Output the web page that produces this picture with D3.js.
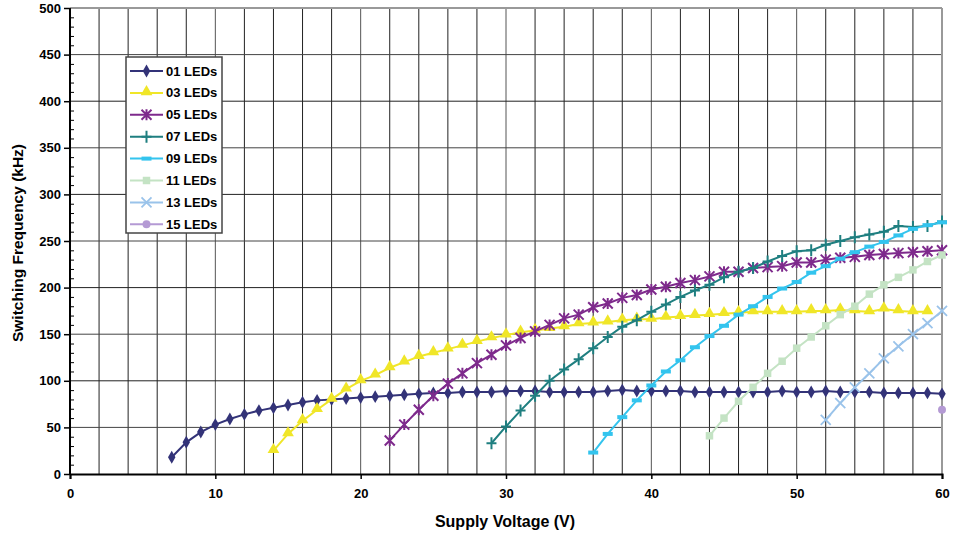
<!DOCTYPE html>
<html><head><meta charset="utf-8">
<script src="https://cdn.jsdelivr.net/npm/d3@7"></script>
<style>body{margin:0;background:#fff;} svg{display:block;font-family:"Liberation Sans",Arial,sans-serif;}</style>
</head><body>
<svg id="c" width="953" height="535"></svg>
<script>
const seriesNames = ["01 LEDs","03 LEDs","05 LEDs","07 LEDs","09 LEDs","11 LEDs","13 LEDs","15 LEDs"];
const startVoltages = [7,14,22,29,36,44,52,60];
const led01 = [18,34,45,53,59,64,68,71,74,77,79,80,81,82,83,84,85,86,87,87,88,88,88,89,89,89,88,88,88,88,89,90,89,89,89,89,88,88,88,88,88,88,89,88,88,89,88,88,88,87,87,87,87,86];
const led03 = [25,43,57,69,80,91,100,106,114,120,126,130,134,138,142,146,149,152,154,156,158,161,162,163,165,166,166,168,169,170,171,172,173,174,174,174,174,175,175,176,175,174,177,175,174,174];
const led05 = [36,53,69,84,97,108,119,128,138,146,153,160,167,171,179,183,189,192,198,201,205,208,212,217,217,221,222,223,227,227,230,232,233,235,236,237,238,239,240];
const led07 = [33,51,68,84,100,112,123,135,147,158,165,174,182,190,197,203,211,217,221,228,234,239,240,246,250,254,257,260,266,265,266,271];
const led09 = [23,43,61,79,95,110,122,136,148,159,171,180,190,199,206,216,223,231,238,244,249,256,263,267,270];
const led11 = [41,60,78,93,108,121,135,147,159,171,180,193,203,211,219,228,235];
const led13 = [58,76,93,108,124,137,150,162,175];
const led15 = [69];
const seriesValues = [led01,led03,led05,led07,led09,led11,led13,led15];
const colors = ["#333378","#f0e628","#7e2a8c","#1f7f80","#33c4ee","#c4e3c4","#9ac3ea","#b49ad4"];
const markers = ["diamond","triangle","asterisk","plus","dash","square","cross","circle"];
const xTicks = [0,10,20,30,40,50,60];
const yTicks = [0,50,100,150,200,250,300,350,400,450,500];

const svg = d3.select("#c");
const M = {l:70, r:11, t:8, b:61};
const W = 953, H = 535;
const x = d3.scaleLinear().domain([0,60]).range([M.l, W-M.r]);
const y = d3.scaleLinear().domain([0,500]).range([H-M.b, M.t]);

// gridlines
const g = svg.append("g");
g.selectAll(".vg").data(d3.range(2,60,2)).enter().append("line")
  .attr("x1",d=>x(d)).attr("x2",d=>x(d)).attr("y1",y(0)).attr("y2",y(500))
  .attr("stroke",d=>d%10===0?"#555":"#222").attr("stroke-width",1);
g.selectAll(".hg").data(d3.range(50,500,50)).enter().append("line")
  .attr("x1",x(0)).attr("x2",x(60)).attr("y1",d=>y(d)).attr("y2",d=>y(d))
  .attr("stroke",d=>d%100===0?"#222":"#444").attr("stroke-width",1);
// frame top/right
g.append("line").attr("x1",x(0)).attr("x2",x(60)).attr("y1",y(500)).attr("y2",y(500)).attr("stroke","#999").attr("stroke-width",2);
g.append("line").attr("x1",x(60)).attr("x2",x(60)).attr("y1",y(0)).attr("y2",y(500)).attr("stroke","#999").attr("stroke-width",2);

// axes
const yAxis = d3.axisLeft(y).tickValues(yTicks).tickSize(6).tickPadding(3);
const ya = svg.append("g").attr("transform",`translate(${x(0)},0)`).call(yAxis);
const yMinor = svg.append("g").attr("transform",`translate(${x(0)},0)`)
  .call(d3.axisRight(y).tickValues(d3.range(0,501,10).filter(v=>v%50!==0)).tickSize(4).tickFormat(""));
yMinor.select(".domain").remove();
const xAxis = d3.axisBottom(x).tickValues(xTicks).tickSize(5).tickPadding(10);
const xa = svg.append("g").attr("transform",`translate(0,${y(0)})`).call(xAxis);
[ya,xa].forEach(a=>{
  a.select(".domain").attr("stroke","#000").attr("stroke-width",2);
  a.selectAll(".tick line").attr("stroke","#000").attr("stroke-width",1.5);
  a.selectAll("text").attr("font-size",13).attr("font-weight","bold").attr("fill","#000")
   .attr("font-family","'Liberation Sans',Arial,sans-serif");
});
yMinor.selectAll(".tick line").attr("stroke","#000");
ya.selectAll(".domain").attr("d",`M0,${y(0)}V${y(500)}`);

// axis titles
svg.append("text").attr("x",(x(0)+x(60))/2 - 1).attr("y",527).attr("text-anchor","middle")
  .attr("font-size",16).attr("font-weight","bold").text("Supply Voltage (V)");
svg.append("text").attr("transform",`translate(23,${(y(0)+y(500))/2 + 2}) rotate(-90)`).attr("text-anchor","middle")
  .attr("font-size",15.5).attr("font-weight","bold").text("Switching Frequency (kHz)");

// marker drawing
function drawMarker(sel, type, color){
  if(type==="diamond") sel.append("path").attr("d",d3.symbol(d3.symbolDiamond,48)()).attr("fill",color);
  else if(type==="triangle") sel.append("path").attr("d",d3.symbol(d3.symbolTriangle,60)()).attr("fill",color).attr("transform","translate(0,-1)");
  else if(type==="square") sel.append("path").attr("d",d3.symbol(d3.symbolSquare,56)()).attr("fill",color);
  else if(type==="circle") sel.append("path").attr("d",d3.symbol(d3.symbolCircle,50)()).attr("fill",color);
  else if(type==="asterisk") sel.append("path").attr("d","M-5,-5L5,5M-5,5L5,-5M0,-5.5V5.5").attr("stroke",color).attr("stroke-width",2).attr("fill","none");
  else if(type==="plus") sel.append("path").attr("d","M-5,0H5M0,-6V6").attr("stroke",color).attr("stroke-width",2).attr("fill","none");
  else if(type==="dash") sel.append("path").attr("d","M-5,0H5").attr("stroke",color).attr("stroke-width",4).attr("fill","none");
  else if(type==="cross") sel.append("path").attr("d","M-5,-5L5,5M-5,5L5,-5").attr("stroke",color).attr("stroke-width",1.8).attr("fill","none");
}

const line = d3.line().x(d=>x(d[0])).y(d=>y(d[1]));
seriesValues.forEach((vals,i)=>{
  const pts = vals.map((v,j)=>[startVoltages[i]+j, v]);
  const sg = svg.append("g");
  sg.append("path").datum(pts).attr("d",line).attr("fill","none").attr("stroke",colors[i]).attr("stroke-width",2);
  pts.forEach(p=>{
    const mg = sg.append("g").attr("transform",`translate(${x(p[0])},${y(p[1])})`);
    drawMarker(mg, markers[i], colors[i]);
  });
});

// legend
const lg = svg.append("g");
lg.append("rect").attr("x",126).attr("y",57).attr("width",96).attr("height",176).attr("fill","#fff").attr("stroke","#444").attr("stroke-width",1.5);
seriesNames.forEach((n,i)=>{
  const yy = 71 + i*21.9;
  lg.append("line").attr("x1",130).attr("x2",163).attr("y1",yy).attr("y2",yy).attr("stroke",colors[i]).attr("stroke-width",2);
  const mg = lg.append("g").attr("transform",`translate(146.5,${yy})`);
  drawMarker(mg, markers[i], colors[i]);
  lg.append("text").attr("x",166).attr("y",yy+4.5).attr("font-size",13).attr("font-weight","bold").text(n);
});
</script>
</body></html>
